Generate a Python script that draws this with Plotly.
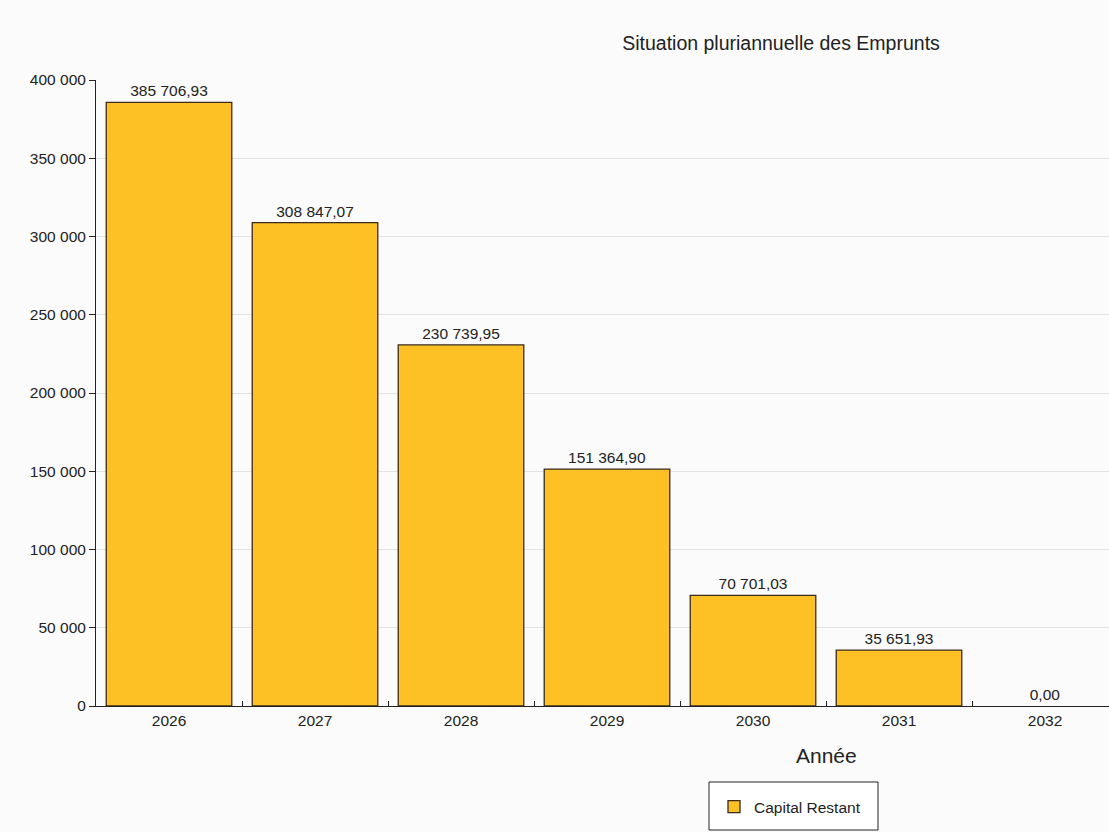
import plotly.graph_objects as go

years = ["2026", "2027", "2028", "2029", "2030", "2031", "2032"]
capital_restant = [385706.93, 308847.07, 230739.95, 151364.90, 70701.03, 35651.93, 0.00]
y_ticks = [0, 50000, 100000, 150000, 200000, 250000, 300000, 350000, 400000]

W, H = 1109, 832
L, R, T, B = 96, 0, 80, 126
pw = W - L - R
ph = H - T - B

def px_x(x):
    return (x - L) / pw

def px_y(y):
    return (H - B - y) / ph

outline_w = [1.3 if v > 0 else 0 for v in capital_restant]
FONT = "Liberation Sans, Arial, sans-serif"

fig = go.Figure()
fig.add_trace(go.Bar(
    x=years, y=capital_restant, name="Capital Restant",
    marker=dict(color="#FDC125", line=dict(color="#3a2b1c", width=outline_w)),
    width=0.86,
    texttemplate="%{y:,.2f}", textposition="outside",
    textfont=dict(size=15.5, color="#222", family=FONT),
    cliponaxis=False,
))

fig.update_layout(
    width=W, height=H,
    margin=dict(l=L, r=R, t=T, b=B),
    paper_bgcolor="#fbfbfb", plot_bgcolor="#fbfbfb",
    separators=", ",
    font=dict(family=FONT, size=15.5, color="#222"),
    title=dict(text="Situation pluriannuelle des Emprunts", x=px_x(781), xanchor="center",
               xref="paper", y=1 - 43 / H, yanchor="middle", yref="container",
               font=dict(size=19.5, color="#222")),
    showlegend=True,
    legend=dict(x=px_x(714), xanchor="left", y=px_y(807), yanchor="middle",
                bgcolor="rgba(0,0,0,0)", borderwidth=0,
                font=dict(size=15.5, color="#222")),
    xaxis=dict(type="category", range=[-0.5, 6.5 - 9 / 146], showline=True, linecolor="#222",
               linewidth=1, ticks="inside", tickson="boundaries", ticklen=5, tickcolor="#222",
               showgrid=False, tickfont=dict(size=15.5, color="#222")),
    yaxis=dict(range=[0, 400000], tickvals=y_ticks, tickformat=",d", showline=True,
               linecolor="#222", linewidth=1, ticks="outside", ticklen=6, tickcolor="#222",
               showgrid=True, gridcolor="#e2e2e2", zeroline=False,
               tickfont=dict(size=15.5, color="#222")),
    shapes=[dict(type="rect", xref="paper", yref="paper",
                 x0=px_x(709), x1=px_x(878), y0=px_y(782), y1=px_y(830),
                 fillcolor="#ffffff", line=dict(color="#222", width=1), layer="below")],
    annotations=[dict(text="Année", x=px_x(826), y=px_y(755), xref="paper", yref="paper",
                      showarrow=False, xanchor="center", yanchor="middle",
                      font=dict(size=21, color="#222"))],
)

fig.write_html("out.html")
